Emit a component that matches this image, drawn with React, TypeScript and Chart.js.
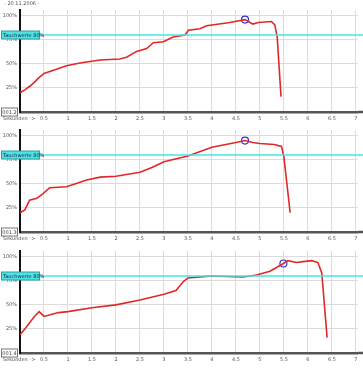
import React, { useEffect, useRef } from "react";
import { Chart, registerables } from "chart.js";
Chart.register(...registerables);

const TITLE = "- 20.11.2006 -";
const TARGET = 80;
const TARGET_LABEL = "Tauchwerte 80%";
const X_LABEL = "Sekunden ->";
const Y_TICKS = [25, 50, 75, 100];
const X_MAX = 7.04;

const p1Time = [0, 0.1, 0.21, 0.28, 0.38, 0.5, 0.73, 0.97, 1.25, 1.67, 2.08, 2.22, 2.43, 2.64, 2.78, 2.99, 3.19, 3.44, 3.51, 3.75, 3.89, 4.375, 4.69, 4.85, 4.97, 5.24, 5.31, 5.36, 5.44];
const p1Val = [20, 23, 27, 30, 35, 40, 44, 48, 51, 54, 55, 57, 63, 66, 72, 73, 78, 80, 85, 86.5, 89.6, 93, 96, 91.4, 93, 94, 90.6, 78, 16];
const p1Peak = { t: 4.69, v: 96 };

const p2Time = [0, 0.1, 0.2, 0.35, 0.48, 0.62, 0.97, 1.39, 1.67, 2.0, 2.5, 2.75, 3.0, 3.5, 4.0, 4.5, 4.69, 4.85, 5.0, 5.3, 5.45, 5.5, 5.63];
const p2Val = [20, 23, 33, 35, 40, 46, 47, 54, 57, 58, 62, 67, 73, 79, 88, 93, 95, 93, 92, 91, 89, 78, 20];
const p2Peak = { t: 4.69, v: 95 };

const p3Time = [0, 0.15, 0.3, 0.4, 0.5, 0.65, 0.8, 1.0, 1.5, 2.0, 2.5, 3.0, 3.25, 3.4, 3.5, 4.0, 4.3, 4.65, 4.93, 5.21, 5.49, 5.58, 5.76, 5.9, 6.08, 6.21, 6.29, 6.4];
const p3Val = [19, 28, 38, 43, 38, 40, 42, 43, 47, 50, 55, 61, 65, 74, 78, 80, 79.5, 79, 81, 85, 93, 96, 94, 95, 96, 94, 83, 16];
const p3Peak = { t: 5.49, v: 93 };

const panels = [
  { time: p1Time, val: p1Val, peak: p1Peak, box: "001.2", title: true, top: 0 },
  { time: p2Time, val: p2Val, peak: p2Peak, box: "001.3", title: false, top: 120 },
  { time: p3Time, val: p3Val, peak: p3Peak, box: "001.4", title: false, top: 241 },
];

const FONT = "DejaVu Sans";

function Panel({ p }: { p: any }) {
  const ref = useRef<HTMLCanvasElement>(null);
  useEffect(() => {
    const overlay = {
      id: "overlay",
      afterDraw(chart: any) {
        const ctx = chart.ctx;
        const ys = chart.scales.y;
        const area = chart.chartArea;
        ctx.save();
        // extend x axis line to the right edge
        const zy = ys.getPixelForValue(0);
        ctx.strokeStyle = "#555";
        ctx.lineWidth = 2.5;
        ctx.beginPath();
        ctx.moveTo(area.right, zy);
        ctx.lineTo(chart.width, zy);
        ctx.stroke();
        ctx.font = `5px "${FONT}"`;
        ctx.textBaseline = "middle";
        if (p.title) {
          ctx.fillStyle = "#555";
          ctx.textAlign = "left";
          ctx.fillText(TITLE, 4, 4);
        }
        const ty = ys.getPixelForValue(TARGET);
        ctx.strokeStyle = "#45e6e6";
        ctx.lineWidth = 1.5;
        ctx.beginPath();
        ctx.moveTo(area.right, ty);
        ctx.lineTo(chart.width, ty);
        ctx.stroke();
        ctx.fillStyle = "#4fe3e3";
        ctx.strokeStyle = "#2a9f9f";
        ctx.lineWidth = 1;
        ctx.fillRect(1.5, ty - 4, 38, 8);
        ctx.strokeRect(1.5, ty - 4, 38, 8);
        ctx.fillStyle = "#124";
        ctx.textAlign = "left";
        ctx.fillText(TARGET_LABEL, 3, ty + 0.5);
        ctx.fillStyle = "#fff";
        ctx.strokeStyle = "#777";
        ctx.fillRect(1.5, zy - 4, 16, 8);
        ctx.strokeRect(1.5, zy - 4, 16, 8);
        ctx.fillStyle = "#444";
        ctx.textAlign = "center";
        ctx.fillText(p.box, 9.5, zy + 0.5);
        ctx.fillStyle = "#555";
        ctx.textAlign = "left";
        ctx.fillText(X_LABEL, 3, zy + 7);
        ctx.restore();
      },
    };
    const chart = new Chart(ref.current!, {
      type: "line",
      data: {
        datasets: [
          {
            data: [{ x: 0, y: TARGET }, { x: X_MAX, y: TARGET }],
            borderColor: "#45e6e6",
            borderWidth: 1.5,
            pointRadius: 0,
          },
          {
            data: p.time.map((t: number, i: number) => ({ x: t, y: p.val[i] })),
            borderColor: "#e02828",
            borderWidth: 1.6,
            pointRadius: 0,
            tension: 0,
          },
          {
            data: [{ x: p.peak.t, y: p.peak.v }],
            borderColor: "#3030d0",
            backgroundColor: "rgba(0,0,0,0)",
            borderWidth: 1.2,
            pointRadius: 3.5,
            showLine: false,
          },
        ],
      },
      options: {
        animation: false,
        responsive: false,
        maintainAspectRatio: false,
        layout: { padding: { top: 10, left: 0, right: 0, bottom: 0 } },
        plugins: { legend: { display: false }, tooltip: { enabled: false } },
        scales: {
          x: {
            type: "linear",
            min: 0,
            max: X_MAX,
            afterBuildTicks: (s: any) => {
              const t = [];
              for (let i = 0; i <= 14; i++) t.push({ value: i * 0.5 });
              s.ticks = t;
            },
            afterFit: (s: any) => {
              s.height = 12;
              s.paddingRight = 0;
              s.paddingLeft = 0;
            },
            grid: { color: "#dcdcdc", lineWidth: 1, drawTicks: false },
            border: { color: "#555", width: 2.5 },
            ticks: {
              font: { size: 5, family: FONT },
              color: "#555",
              padding: 4,
              maxRotation: 0,
              autoSkip: false,
              callback: (v: any) => (v === 0 ? "" : String(v)),
            },
          },
          y: {
            min: 0,
            max: 106,
            afterBuildTicks: (s: any) => {
              s.ticks = [0, ...Y_TICKS].map((v) => ({ value: v }));
            },
            afterFit: (s: any) => {
              s.width = 20;
            },
            grid: { color: "#dcdcdc", lineWidth: 1, drawTicks: false },
            border: { color: "#111", width: 2 },
            ticks: {
              font: { size: 5, family: FONT },
              color: "#555",
              padding: 3,
              autoSkip: false,
              callback: (v: any) => (v === 0 ? "" : v + "%"),
            },
          },
        },
      },
      plugins: [overlay],
    } as any);
    return () => chart.destroy();
  }, []);
  return (
    <canvas
      ref={ref}
      width={363}
      height={124}
      style={{ position: "absolute", left: 0, top: p.top, width: 363, height: 124 }}
    />
  );
}

export default function App() {
  useEffect(() => {
    document.body.style.margin = "0";
  }, []);
  return (
    <div style={{ position: "relative", width: 363, height: 371, background: "#fff", overflow: "hidden" }}>
      {panels.map((p, i) => (
        <Panel key={i} p={p} />
      ))}
    </div>
  );
}
